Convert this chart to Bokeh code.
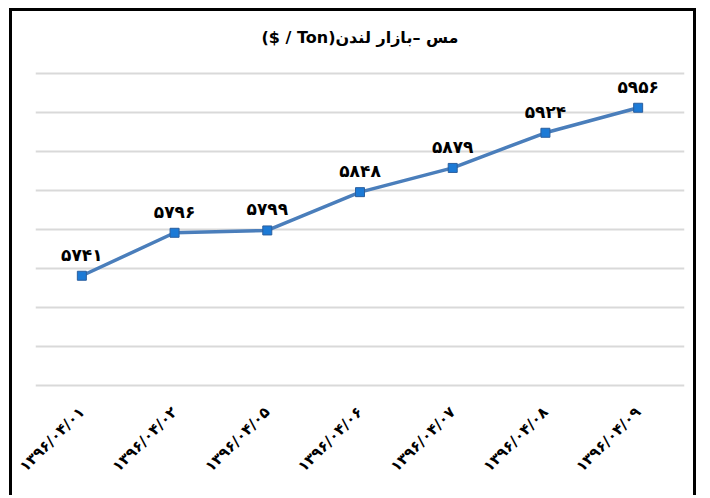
import math
from bokeh.plotting import figure
from bokeh.models import ColumnDataSource, FixedTicker, Range1d, Label
from bokeh.core.properties import value
from bokeh.embed import file_html
from bokeh.resources import INLINE

# ---- data ----
dates = ["۱۳۹۶/۰۴/۰۱", "۱۳۹۶/۰۴/۰۲", "۱۳۹۶/۰۴/۰۵", "۱۳۹۶/۰۴/۰۶",
         "۱۳۹۶/۰۴/۰۷", "۱۳۹۶/۰۴/۰۸", "۱۳۹۶/۰۴/۰۹"]
prices = [5741, 5796, 5799, 5848, 5879, 5924, 5956]
grid_values = [5600, 5650, 5700, 5750, 5800, 5850, 5900, 5950, 6000]
title_text = "\u202bمس –بازار لندن(Ton / $)\u202c"

FA_DIGITS = str.maketrans("0123456789", "۰۱۲۳۴۵۶۷۸۹")
labels = [str(v).translate(FA_DIGITS) for v in prices]

src = ColumnDataSource(dict(x=dates, y=prices, label=labels))

FONT = "DejaVu Sans"

# the plot area reaches up to the title row; grid lines stop at the top value
y_lo = grid_values[0] - 2
y_hi = grid_values[-1] + 60

p = figure(x_range=dates, y_range=Range1d(y_lo, y_hi),
           width=687, height=487, output_backend="svg", toolbar_location=None,
           title_location=None,
           min_border_left=23, min_border_right=15, min_border_top=15,
           min_border_bottom=111, outline_line_color=None,
           background_fill_color="white", border_fill_color="white")
p.styles = {"margin-left": "9px", "margin-top": "8px",
            "border-left": "3px solid black", "border-top": "3px solid black",
            "border-right": "3px solid black"}

title = Label(x=len(dates) / 2, y=y_hi - 14, text=title_text,
              text_align="center", text_baseline="middle",
              text_font=FONT, text_font_style="bold", text_font_size="16px",
              text_color="black")
p.add_layout(title)

p.x_range.range_padding = 0

p.yaxis.ticker = FixedTicker(ticks=grid_values)
p.yaxis.visible = False
p.ygrid.grid_line_color = "#d9d9d9"
p.ygrid.grid_line_width = 2
p.xgrid.grid_line_color = None

p.xaxis.axis_line_color = None
p.xaxis.major_tick_line_color = None
p.xaxis.minor_tick_line_color = None
p.xaxis.major_label_orientation = math.pi / 4
p.xaxis.major_label_text_font = FONT
p.xaxis.major_label_text_font_style = "bold"
p.xaxis.major_label_text_font_size = "15px"
p.xaxis.major_label_text_color = "black"
p.xaxis.major_label_standoff = 16

p.line("x", "y", source=src, line_color="#4A7EBB", line_width=3.5)
p.scatter("x", "y", source=src, marker="square", size=9,
          fill_color="#1C7AD6", line_color="#2B5F9E", line_width=1)
p.text("x", "y", text="label", source=src, text_align="center",
       text_baseline="alphabetic", y_offset=-21,
       text_font=value(FONT), text_font_style="bold",
       text_font_size="17px", text_color="black")

open("out.html", "w").write(file_html(p, INLINE))
